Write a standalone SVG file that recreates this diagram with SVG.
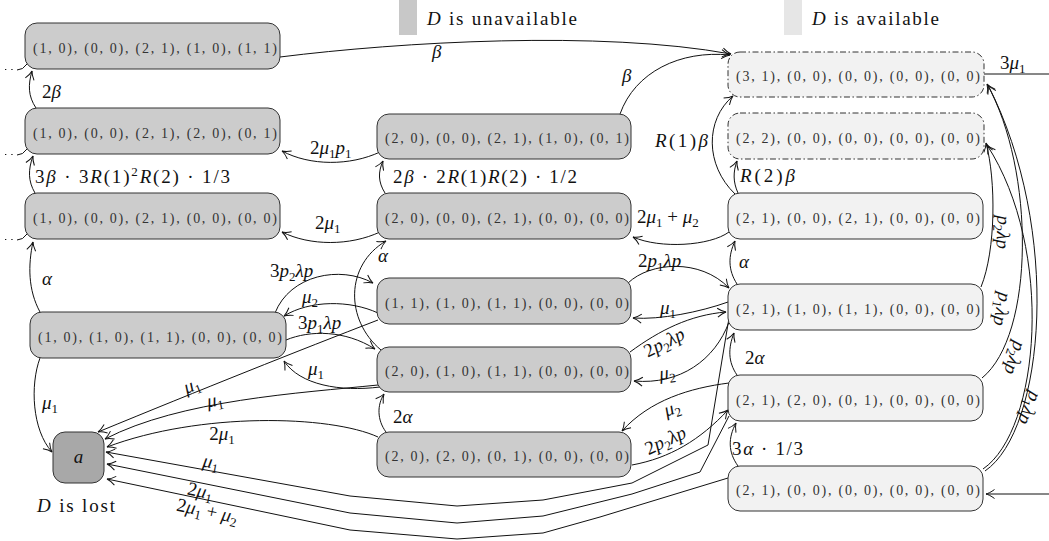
<svg xmlns="http://www.w3.org/2000/svg" width="1049" height="541" viewBox="0 0 1049 541">
<defs>
<marker id="ar" viewBox="-10 -6 12 12" refX="0" refY="0" markerWidth="12" markerHeight="12" markerUnits="userSpaceOnUse" orient="auto">
<path d="M -8.5,-4.5 C -5,-1.8 -2,-0.5 0,0 C -2,0.5 -5,1.8 -8.5,4.5" fill="none" stroke="#111" stroke-width="1"/>
</marker>
<style>
.nd rect{stroke:#333;stroke-width:1}
.g rect{fill:#cccccc}
.w rect{fill:#f2f2f2}
.k rect{fill:#a8a8a8}
.dd rect{stroke-dasharray:6 2.5 1.5 2.5}
.nd text{font-family:"Liberation Serif",serif;font-size:14px;fill:#333}
.l{font-family:"Liberation Serif",serif;font-size:19px;fill:#111}
.i{font-style:italic}
.s{font-size:13px}
.c path{fill:none;stroke:#111;stroke-width:1;marker-end:url(#ar)}
.c path.nm{marker-end:none}
.c path.dt{marker-end:none;stroke-dasharray:1.3 5}
</style>
</defs>

<rect x="399" y="0" width="18" height="35" fill="#c8c8c8"/>
<text class="l" x="427" y="25" textLength="150"><tspan class="i">D</tspan> is unavailable</text>
<rect x="784" y="0" width="18" height="35" fill="#e6e6e6"/>
<text class="l" x="812" y="25" textLength="127"><tspan class="i">D</tspan> is available</text>

<g class="c" id="connectors">
<path d="M 280,57 C 400,42 600,30 731,54"/>
<path d="M 620,114 C 635,72 680,50 730,55"/>
<path d="M 36,108 C 28,96 28,85 32,71"/>
<path d="M 35,193 C 28,181 28,170 33,156"/>
<path d="M 385,193 C 378,182 378,172 383,161"/>
<path d="M 380,152 C 350,166 310,166 282,151"/>
<path d="M 380,232 C 350,246 310,246 282,232"/>
<path d="M 729,232 C 710,246 660,249 633,237"/>
<path d="M 735,194 C 705,165 705,120 733,96"/>
<path d="M 738,193 C 733,182 733,172 737,161"/>
<path d="M 737,284 C 728,270 728,256 735,241"/>
<path d="M 628,283 C 650,262 700,258 729,288"/>
<path d="M 728,302 C 700,312 660,320 633,318"/>
<path d="M 630,352 C 660,330 690,315 726,312"/>
<path d="M 729,322 C 715,360 680,385 634,381"/>
<path d="M 737,375 C 728,362 728,348 734,333"/>
<path d="M 729,383 C 690,388 650,400 622,431"/>
<path d="M 632,465 C 670,458 700,440 728,410"/>
<path d="M 738,466 C 728,452 728,438 736,423"/>
<path d="M 40,312 C 28,290 28,265 33,242"/>
<path d="M 40,358 C 30,385 32,430 52,452"/>
<path d="M 275,313 C 290,275 340,265 373,283"/>
<path d="M 378,313 C 350,300 310,300 284,316"/>
<path d="M 286,340 C 310,330 345,330 375,349"/>
<path d="M 380,387 C 340,392 300,385 284,361"/>
<path d="M 381,350 C 345,320 345,265 386,241"/>
<path d="M 386,432 C 377,420 377,405 384,394"/>
<path d="M 378,320 C 300,350 200,390 98,432"/>
<path d="M 378,385 C 300,393 180,400 105,439"/>
<path d="M 378,437 C 330,415 200,412 107,447"/>
<path d="M 729,318 L 722,360 L 708,445 L 632,483 L 543,500 L 457,506 L 350,496 L 106,452"/>
<path d="M 729,416 L 700,472 L 632,494 L 543,516 L 457,523 L 350,513 L 107,464"/>
<path d="M 728,478 L 600,517 L 543,533 L 457,539 L 350,530 L 107,479"/>
<path class="nm" d="M 984,74 L 1049,74"/>
<path d="M 1049,494 L 986,494"/>
<path d="M 981,287 C 996,250 996,180 986,143"/>
<path d="M 982,378 C 1035,335 1035,170 987,84"/>
<path d="M 983,469 C 1040,430 1055,250 987,145"/>
<path d="M 985,471 C 1045,430 1062,230 988,85"/>
<path class="dt" d="M 5,69.5 L 16,69.5"/>
<path class="nm" d="M 17,70 Q 23,70 27,64"/>
<path class="dt" d="M 5,154.5 L 16,154.5"/>
<path class="nm" d="M 17,155 Q 23,155 27,149"/>
<path class="dt" d="M 5,239.5 L 16,239.5"/>
<path class="nm" d="M 17,240 Q 23,240 27,234"/>
</g>

<g id="L1" class="nd g"><rect x="25" y="23" width="255" height="46" rx="12"/><text x="33" y="53" textLength="244">(1, 0), (0, 0), (2, 1), (1, 0), (1, 1)</text></g>
<g id="L2" class="nd g"><rect x="25" y="108" width="255" height="46" rx="12"/><text x="33" y="138" textLength="244">(1, 0), (0, 0), (2, 1), (2, 0), (0, 1)</text></g>
<g id="L3" class="nd g"><rect x="25" y="193" width="255" height="46" rx="12"/><text x="33" y="223" textLength="244">(1, 0), (0, 0), (2, 1), (0, 0), (0, 0)</text></g>
<g id="L4" class="nd g"><rect x="30" y="312" width="256" height="46" rx="12"/><text x="38" y="342" textLength="244">(1, 0), (1, 0), (1, 1), (0, 0), (0, 0)</text></g>
<g id="a" class="nd k"><rect x="53" y="432" width="51" height="51" rx="12"/><text class="l i" x="78.5" y="463" text-anchor="middle" style="font-size:19px;fill:#111">a</text></g>
<g id="M1" class="nd g"><rect x="377" y="114" width="254" height="45" rx="12"/><text x="385" y="143" textLength="244">(2, 0), (0, 0), (2, 1), (1, 0), (0, 1)</text></g>
<g id="M2" class="nd g"><rect x="377" y="193" width="254" height="46" rx="12"/><text x="385" y="223" textLength="244">(2, 0), (0, 0), (2, 1), (0, 0), (0, 0)</text></g>
<g id="M3" class="nd g"><rect x="377" y="278" width="254" height="46" rx="12"/><text x="385" y="308" textLength="244">(1, 1), (1, 0), (1, 1), (0, 0), (0, 0)</text></g>
<g id="M4" class="nd g"><rect x="377" y="347" width="254" height="45" rx="12"/><text x="385" y="376" textLength="244">(2, 0), (1, 0), (1, 1), (0, 0), (0, 0)</text></g>
<g id="M5" class="nd g"><rect x="377" y="432" width="254" height="45" rx="12"/><text x="385" y="461" textLength="244">(2, 0), (2, 0), (0, 1), (0, 0), (0, 0)</text></g>
<g id="R1" class="nd w dd"><rect x="728" y="52" width="256" height="45" rx="12"/><text x="736" y="81" textLength="244">(3, 1), (0, 0), (0, 0), (0, 0), (0, 0)</text></g>
<g id="R2" class="nd w dd"><rect x="728" y="113" width="256" height="46" rx="12"/><text x="736" y="143" textLength="244">(2, 2), (0, 0), (0, 0), (0, 0), (0, 0)</text></g>
<g id="R3" class="nd w"><rect x="728" y="193" width="255" height="46" rx="12"/><text x="736" y="223" textLength="244">(2, 1), (0, 0), (2, 1), (0, 0), (0, 0)</text></g>
<g id="R4" class="nd w"><rect x="728" y="284" width="255" height="46" rx="12"/><text x="736" y="314" textLength="244">(2, 1), (1, 0), (1, 1), (0, 0), (0, 0)</text></g>
<g id="R5" class="nd w"><rect x="728" y="375" width="255" height="46" rx="12"/><text x="736" y="405" textLength="244">(2, 1), (2, 0), (0, 1), (0, 0), (0, 0)</text></g>
<g id="R6" class="nd w"><rect x="728" y="466" width="255" height="45" rx="12"/><text x="736" y="495" textLength="244">(2, 1), (0, 0), (0, 0), (0, 0), (0, 0)</text></g>

<g id="labels">
<text class="l" x="37" y="512" textLength="78"><tspan class="i">D</tspan> is lost</text>
<text class="l i" x="432" y="58">β</text>
<text class="l i" x="622" y="82">β</text>
<text class="l" x="42" y="98">2<tspan class="i">β</tspan></text>
<text class="l" x="35" y="183" textLength="195">3<tspan class="i">β</tspan> · 3<tspan class="i">R</tspan>(1)<tspan class="s" dy="-7">2</tspan><tspan class="i" dy="7">R</tspan>(2) · 1/3</text>
<text class="l" x="310" y="154">2<tspan class="i">μ</tspan><tspan class="s" dy="4">1</tspan><tspan class="i" dy="-4">p</tspan><tspan class="s" dy="4">1</tspan></text>
<text class="l" x="393" y="183" textLength="184">2<tspan class="i">β</tspan> · 2<tspan class="i">R</tspan>(1)<tspan class="i">R</tspan>(2) · 1/2</text>
<text class="l" x="315" y="229">2<tspan class="i">μ</tspan><tspan class="s" dy="4">1</tspan></text>
<text class="l" x="655" y="147" textLength="53"><tspan class="i">R</tspan>(1)<tspan class="i">β</tspan></text>
<text class="l" x="740" y="182" textLength="55"><tspan class="i">R</tspan>(2)<tspan class="i">β</tspan></text>
<text class="l" x="637" y="223">2<tspan class="i">μ</tspan><tspan class="s" dy="4">1</tspan><tspan dy="-4"> + </tspan><tspan class="i">μ</tspan><tspan class="s" dy="4">2</tspan></text>
<text class="l" x="1000" y="69">3<tspan class="i">μ</tspan><tspan class="s" dy="4">1</tspan></text>
<text class="l i" x="739" y="268">α</text>
<text class="l" x="638" y="267">2<tspan class="i">p</tspan><tspan class="s" dy="4">1</tspan><tspan class="i" dy="-4">λp</tspan></text>
<text class="l" x="660" y="314"><tspan class="i">μ</tspan><tspan class="s" dy="4">1</tspan></text>
<text class="l" transform="translate(667,348) rotate(-27)" text-anchor="middle">2<tspan class="i">p</tspan><tspan class="s" dy="4">2</tspan><tspan class="i" dy="-4">λp</tspan></text>
<text class="l" transform="translate(668,379) rotate(-8)" text-anchor="middle"><tspan class="i">μ</tspan><tspan class="s" dy="4">2</tspan></text>
<text class="l" x="745" y="364">2<tspan class="i">α</tspan></text>
<text class="l" transform="translate(674,414) rotate(-20)" text-anchor="middle"><tspan class="i">μ</tspan><tspan class="s" dy="4">2</tspan></text>
<text class="l" transform="translate(668,446) rotate(-25)" text-anchor="middle">2<tspan class="i">p</tspan><tspan class="s" dy="4">2</tspan><tspan class="i" dy="-4">λp</tspan></text>
<text class="l" x="732" y="455" textLength="71">3<tspan class="i">α</tspan> · 1/3</text>
<text class="l i" x="378" y="262">α</text>
<text class="l" x="393" y="423">2<tspan class="i">α</tspan></text>
<text class="l" x="270" y="277">3<tspan class="i">p</tspan><tspan class="s" dy="4">2</tspan><tspan class="i" dy="-4">λp</tspan></text>
<text class="l" x="302" y="303"><tspan class="i">μ</tspan><tspan class="s" dy="4">2</tspan></text>
<text class="l" x="298" y="329">3<tspan class="i">p</tspan><tspan class="s" dy="4">1</tspan><tspan class="i" dy="-4">λp</tspan></text>
<text class="l" x="308" y="375"><tspan class="i">μ</tspan><tspan class="s" dy="4">1</tspan></text>
<text class="l i" x="42" y="285">α</text>
<text class="l" x="42" y="409"><tspan class="i">μ</tspan><tspan class="s" dy="4">1</tspan></text>
<text class="l" transform="translate(194,391) rotate(-22)" text-anchor="middle"><tspan class="i">μ</tspan><tspan class="s" dy="4">1</tspan></text>
<text class="l" transform="translate(216,406) rotate(-10)" text-anchor="middle"><tspan class="i">μ</tspan><tspan class="s" dy="4">1</tspan></text>
<text class="l" x="222" y="440" text-anchor="middle">2<tspan class="i">μ</tspan><tspan class="s" dy="4">1</tspan></text>
<text class="l" transform="translate(210,468) rotate(10)" text-anchor="middle"><tspan class="i">μ</tspan><tspan class="s" dy="4">1</tspan></text>
<text class="l" transform="translate(199,497) rotate(12)" text-anchor="middle">2<tspan class="i">μ</tspan><tspan class="s" dy="4">1</tspan></text>
<text class="l" transform="translate(206,517) rotate(12)" text-anchor="middle">2<tspan class="i">μ</tspan><tspan class="s" dy="4">1</tspan><tspan dy="-4"> + </tspan><tspan class="i">μ</tspan><tspan class="s" dy="4">2</tspan></text>
<text class="l" transform="translate(997,232) rotate(92)" text-anchor="middle"><tspan class="i">p</tspan><tspan class="s" dy="4">2</tspan><tspan class="i" dy="-4">λp</tspan></text>
<text class="l" transform="translate(996,308) rotate(100)" text-anchor="middle"><tspan class="i">p</tspan><tspan class="s" dy="4">1</tspan><tspan class="i" dy="-4">λp</tspan></text>
<text class="l" transform="translate(1009,356) rotate(108)" text-anchor="middle"><tspan class="i">p</tspan><tspan class="s" dy="4">2</tspan><tspan class="i" dy="-4">λp</tspan></text>
<text class="l" transform="translate(1024,406) rotate(112)" text-anchor="middle"><tspan class="i">p</tspan><tspan class="s" dy="4">1</tspan><tspan class="i" dy="-4">λp</tspan></text>
</g>
</svg>
